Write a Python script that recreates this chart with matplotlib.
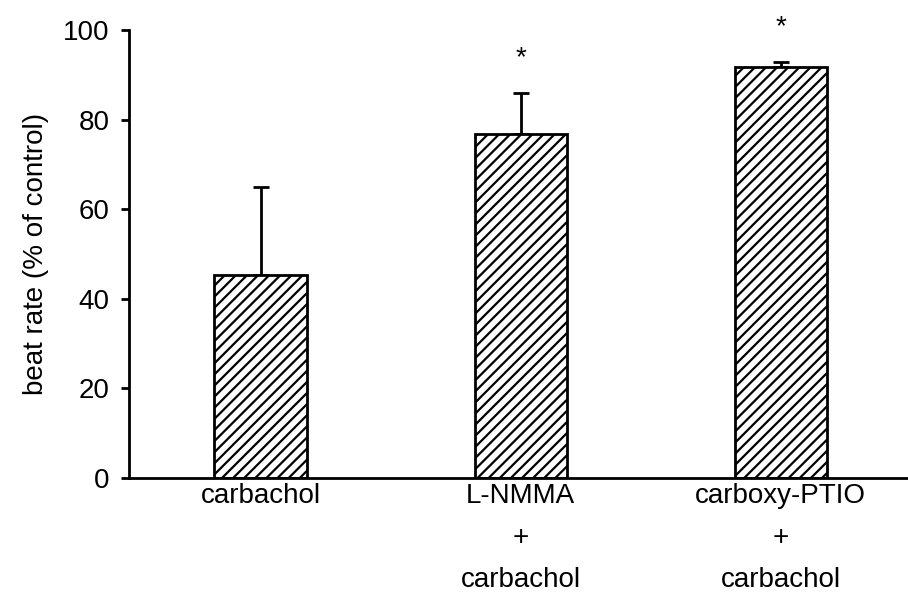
import numpy as np
import matplotlib.pyplot as plt

### Data ###
groups = ['carbachol', 'L-NMMA\n+\ncarbachol', 'carboxy-PTIO\n+\ncarbachol']
beat_rate = [45.3, 76.8, 91.8]
sem = [19.7, 9.1, 1.1]
signif = ['', '*', '*']

plt.rcParams['font.family'] = ['Liberation Sans', 'DejaVu Sans']
plt.rcParams['hatch.linewidth'] = 1.6

fig = plt.figure(figsize=(9.08, 6.01), dpi=100)
ax = fig.add_axes([0.142, 0.205, 0.858, 0.745])

x = np.arange(len(groups))
ax.bar(x, beat_rate, width=0.354, color='white', edgecolor='black',
       linewidth=2, hatch='///', zorder=2)
ax.errorbar(x, beat_rate, yerr=[np.zeros(len(sem)), sem], fmt='none',
            ecolor='black', elinewidth=2, capsize=6, capthick=2, zorder=1)

for xi, val, err, s in zip(x, beat_rate, sem, signif):
    if s:
        ax.text(xi, val + err + 7.8, s, ha='center', va='center', fontsize=20,
                clip_on=False)

ax.set_xlim(-0.506, 2.49)
ax.set_ylim(0, 100)
ax.set_yticks([0, 20, 40, 60, 80, 100])
ax.set_xticks(x)
ax.set_xticklabels(groups, fontsize=20, linespacing=1.8)
ax.tick_params(axis='x', length=0, pad=4)
ax.tick_params(axis='y', labelsize=20, width=2, length=6, pad=8)
ax.set_ylabel('beat rate (% of control)', fontsize=20, labelpad=10)

ax.spines['top'].set_visible(False)
ax.spines['right'].set_visible(False)
ax.spines['left'].set_linewidth(2)
ax.spines['bottom'].set_linewidth(2)

fig.savefig('out.png', dpi=100)
